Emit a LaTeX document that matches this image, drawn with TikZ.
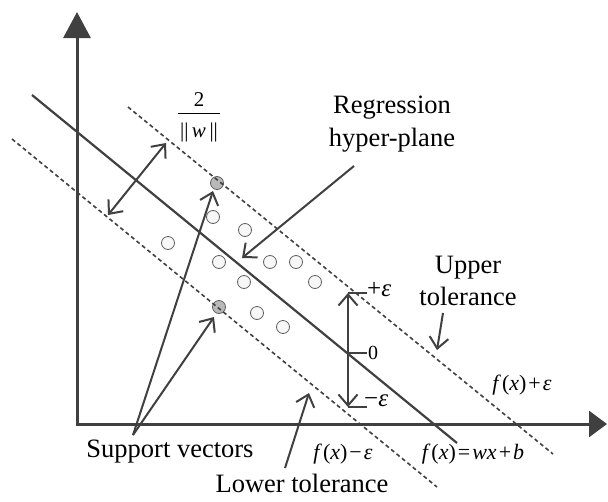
\documentclass[tikz,border=0pt]{standalone}
\usepackage{fontspec}
\setmainfont{Liberation Serif}
\usetikzlibrary{arrows.meta}
\definecolor{ink}{HTML}{404040}
\begin{document}
\begin{tikzpicture}[x=1pt,y=-1pt,
  axis/.style={draw=ink, line width=3pt},
  ln/.style={draw=ink, line width=2.2pt},
  dsh/.style={draw=ink, line width=1.6pt, dash pattern=on 4pt off 3pt},
  barb/.tip={Straight Barb[length=11pt,width=19pt]},
  ptr/.style={draw=ink, line width=2pt, -barb},
  dptr/.style={draw=ink, line width=2pt, barb-barb},
  dot/.style={circle, draw=gray!75!black, line width=0.8pt, fill=gray!6, minimum size=13pt, inner sep=0pt},
  sv/.style={dot, fill=gray!55},
  lbl/.style={font=\fontsize{26.5}{32.5}\selectfont, align=center, inner sep=0pt},
  eq/.style={font=\fontsize{22}{24}\selectfont, inner sep=0pt},
  frac/.style={font=\fontsize{21}{23}\selectfont, inner sep=0pt},
  eps/.style={font=\fontsize{25}{27}\selectfont, inner sep=0pt}]
\useasboundingbox (0,0) rectangle (608,501);

% axes
\coordinate (O) at (77,424);
\coordinate (ytip) at (77,12);
\coordinate (xtip) at (607,424);
\draw[axis, {Triangle[length=26pt,width=27pt]}-{Triangle[length=18pt,width=26pt]}] (ytip) -- (O) -- (xtip);

% data points
\foreach \n/\x/\y in {a/213/217, b/245/230, c/168/243, d/219/262, e/270/262, f/296/262, g/244/282, h/315/282, i/257/313, j/283/327}
  \node[dot] (\n) at (\x,\y) {};
\node[sv] (sv1) at (217,183) {};
\node[sv] (sv2) at (219,307) {};

% regression line and tolerance lines
\coordinate (m1) at (32,95);  \coordinate (m2) at (457,443);
\coordinate (u1) at (128,107); \coordinate (u2) at (553,454);
\coordinate (l1) at (12,139);  \coordinate (l2) at (437,487);
\draw[ln] (m1) -- (m2);
\draw[dsh] (u1) -- (u2);
\draw[dsh] (l1) -- (l2);

% margin width
\coordinate (w1) at (108,215); \coordinate (w2) at (166,143);
\draw[dptr] (w1) -- (w2);
\node[frac] (two) at (199,100) {2};
\coordinate (bar1) at (178,113); \coordinate (bar2) at (220,113);
\draw[black, line width=0.9pt] (bar1) -- (bar2);
\node[frac] (nw) at (199,132) {||\,\textit{w}\,||};

% support vectors
\node[lbl] (svl) at (170,452) {Support vectors};
\coordinate (svroot) at (133,435);
\coordinate (svt1) at (213,191);
\coordinate (svt2) at (214,317);
\draw[ptr] (svroot) -- (svt1);
\draw[ptr] (svroot) -- (svt2);

% regression hyper-plane
\node[lbl] (reg) at (392,124) {Regression\\hyper-plane};
\coordinate (rs) at (354,166); \coordinate (rt) at (242,258);
\draw[ptr] (rs) -- (rt);

% upper tolerance
\node[lbl] (up) at (468,281) {Upper\\tolerance};
\coordinate (us) at (443,313); \coordinate (ut) at (437,350);
\draw[ptr] (us) -- (ut);

% lower tolerance
\node[lbl] (lo) at (302,483) {Lower tolerance};
\coordinate (ls) at (285,468); \coordinate (lt) at (309,393);
\draw[ptr] (ls) -- (lt);

% epsilon bracket
\coordinate (et) at (348,293); \coordinate (em) at (348,353); \coordinate (eb) at (348,407);
\coordinate (ett) at (367,293); \coordinate (emt) at (367,353); \coordinate (ebt) at (367,407);
\draw[dptr] (eb) -- (et);
\draw[ink, line width=2pt] (et) -- (ett) (em) -- (emt) (eb) -- (ebt);
\node[eps, anchor=west] (pe) at (367,290) {+\textit{ε}};
\node[eps, anchor=west, font=\fontsize{20}{22}\selectfont] (ze) at (368,353) {0};
\node[eps, anchor=west] (me) at (364,401) {−\textit{ε}};

% function labels
\node[eq] (fp) at (522,385) {\textit{f}\kern1pt(\textit{x})\kern2pt+\kern2pt\textit{ε}};
\node[eq] (fm) at (343,454) {\textit{f}\kern1pt(\textit{x})\kern2pt−\kern2pt\textit{ε}};
\node[eq] (fw) at (473,454) {\textit{f}\kern1pt(\textit{x})\kern2pt=\kern2pt\textit{wx}\kern2pt+\kern2pt\textit{b}};
\end{tikzpicture}
\end{document}
